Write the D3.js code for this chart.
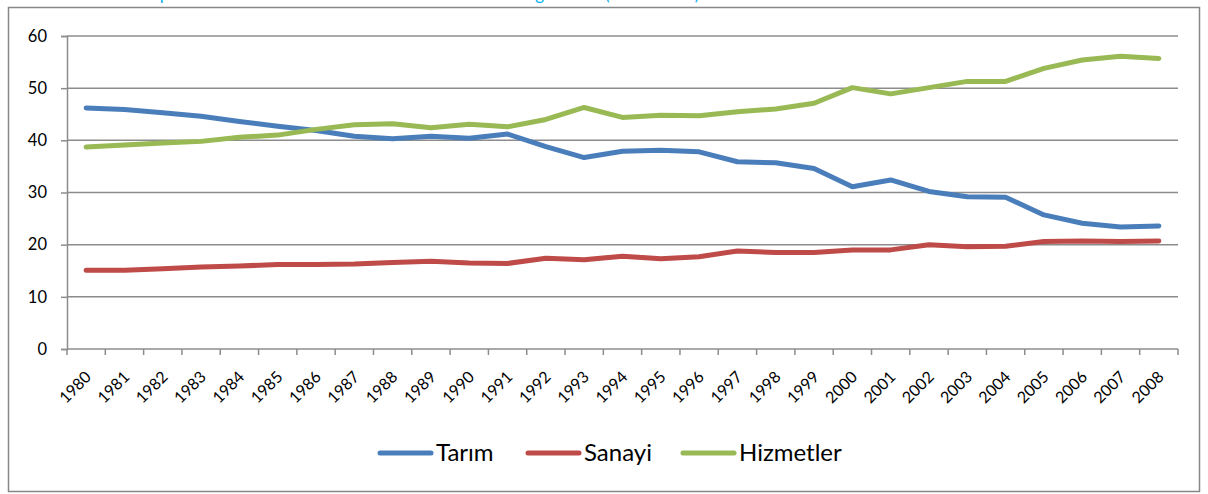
<!DOCTYPE html>
<html>
<head>
<meta charset="utf-8">
<script src="https://cdn.jsdelivr.net/npm/d3@7"></script>
<style>
  html, body { margin: 0; padding: 0; background: #fff; }
  svg { display: block; font-family: Lato, "Open Sans", sans-serif; }
</style>
</head>
<body>
<div id="chart"></div>
<script>
const years = ["1980","1981","1982","1983","1984","1985","1986","1987","1988","1989",
  "1990","1991","1992","1993","1994","1995","1996","1997","1998","1999",
  "2000","2001","2002","2003","2004","2005","2006","2007","2008"];

const tarim = [46.2, 45.9, 45.3, 44.6, 43.6, 42.7, 41.9, 40.8, 40.3, 40.8,
  40.4, 41.2, 38.8, 36.7, 37.9, 38.1, 37.8, 35.9, 35.7, 34.6,
  31.1, 32.4, 30.2, 29.2, 29.1, 25.7, 24.1, 23.4, 23.6];
const sanayi = [15.1, 15.1, 15.4, 15.7, 15.9, 16.2, 16.2, 16.3, 16.6, 16.8,
  16.5, 16.4, 17.4, 17.1, 17.8, 17.3, 17.7, 18.8, 18.5, 18.5,
  19.0, 19.0, 20.0, 19.6, 19.7, 20.6, 20.7, 20.6, 20.7];
const hizmetler = [38.7, 39.1, 39.5, 39.8, 40.6, 41.0, 42.1, 43.0, 43.2, 42.4,
  43.1, 42.6, 44.0, 46.3, 44.4, 44.8, 44.7, 45.5, 46.0, 47.1,
  50.1, 48.9, 50.1, 51.3, 51.3, 53.8, 55.4, 56.1, 55.7];

const seriesNames = ["Tarım", "Sanayi", "Hizmetler"];
const seriesColors = ["#4a7ebb", "#be4b48", "#98b954"];
const yTicks = [0, 10, 20, 30, 40, 50, 60];

// title pieces, the crop only shows their descenders
const titleParts = ["Grafik 1. Toplam İstihdamın Sektörler Arasındaki", "Dağılımı", "(1980-2008)"];
const titleX = [75, 514, 605];

const width = 1208, height = 494;
const plot = { left: 67, right: 1178, top: 36, bottom: 349 };

const svg = d3.select("#chart").append("svg")
  .attr("width", width)
  .attr("height", height);

svg.append("text")
  .attr("y", 0)
  .attr("fill", "#00b0f0")
  .attr("font-size", "17px")
  .selectAll("tspan")
  .data(titleParts)
  .join("tspan")
  .attr("x", (d, i) => titleX[i])
  .text(d => d);

// outer frame
svg.append("rect")
  .attr("x", 8.5).attr("y", 7.5)
  .attr("width", 1191).attr("height", 484)
  .attr("fill", "none")
  .attr("stroke", "#878787")
  .attr("stroke-width", 1.5);

const x = d3.scaleBand()
  .domain(years)
  .range([plot.left, plot.right])
  .padding(0);

const y = d3.scaleLinear()
  .domain([0, 60])
  .range([plot.bottom, plot.top]);

// gridlines
svg.append("g").selectAll("line")
  .data(yTicks.filter(d => d > 0))
  .join("line")
  .attr("x1", plot.left).attr("x2", plot.right)
  .attr("y1", d => y(d)).attr("y2", d => y(d))
  .attr("stroke", "#8c8c8c")
  .attr("stroke-width", 1.5);

// y axis
const yAxis = svg.append("g")
  .attr("transform", `translate(${plot.left},0)`)
  .call(d3.axisLeft(y).tickValues(yTicks).tickSize(6).tickPadding(14));
yAxis.select(".domain").attr("stroke", "#8c8c8c").attr("stroke-width", 1.5);
yAxis.selectAll(".tick line").attr("stroke", "#8c8c8c").attr("stroke-width", 1.5);
yAxis.selectAll(".tick text")
  .attr("font-family", "Lato, sans-serif")
  .attr("font-size", "16.5px")
  .attr("fill", "#000");

// x axis
const xAxis = svg.append("g");
xAxis.append("line")
  .attr("x1", plot.left).attr("x2", plot.right)
  .attr("y1", plot.bottom).attr("y2", plot.bottom)
  .attr("stroke", "#8c8c8c")
  .attr("stroke-width", 1.5);

const bounds = years.map(d => x(d)).concat([plot.right]);
xAxis.selectAll("line.tick")
  .data(bounds)
  .join("line")
  .attr("class", "tick")
  .attr("x1", d => d).attr("x2", d => d)
  .attr("y1", plot.bottom).attr("y2", plot.bottom + 6)
  .attr("stroke", "#8c8c8c")
  .attr("stroke-width", 1.5);

xAxis.selectAll("text")
  .data(years)
  .join("text")
  .attr("transform", d => `translate(${x(d) + x.bandwidth() / 2 + 6},${plot.bottom + 29}) rotate(-45)`)
  .attr("text-anchor", "end")
  .attr("font-size", "16px")
  .attr("fill", "#000")
  .text(d => d);

// lines
const allSeries = [tarim, sanayi, hizmetler];
const line = d3.line()
  .x((d, i) => x(years[i]) + x.bandwidth() / 2)
  .y(d => y(d));

svg.append("g").selectAll("path")
  .data(allSeries)
  .join("path")
  .attr("d", d => line(d))
  .attr("fill", "none")
  .attr("stroke", (d, i) => seriesColors[i])
  .attr("stroke-width", 5)
  .attr("stroke-linecap", "round")
  .attr("stroke-linejoin", "round");

// legend
const legendX = [378, 526, 681];
const legendY = 453;
const legend = svg.append("g").selectAll("g")
  .data(seriesNames)
  .join("g")
  .attr("transform", (d, i) => `translate(${legendX[i]},${legendY})`);

legend.append("line")
  .attr("x1", 2).attr("x2", 53)
  .attr("y1", 0).attr("y2", 0)
  .attr("stroke", (d, i) => seriesColors[i])
  .attr("stroke-width", 5)
  .attr("stroke-linecap", "round");

legend.append("text")
  .attr("x", 58)
  .attr("y", 0)
  .attr("dy", "0.35em")
  .attr("font-size", "24px")
  .attr("fill", "#000")
  .text(d => d);
</script>
</body>
</html>
